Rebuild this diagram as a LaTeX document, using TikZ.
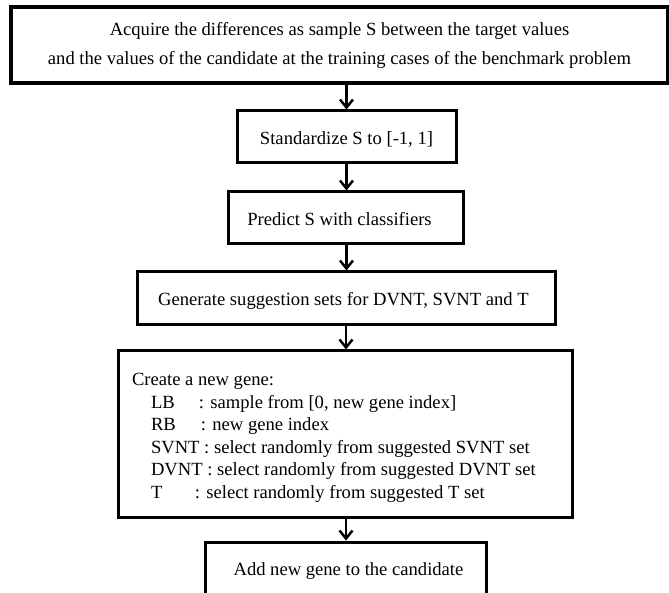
\documentclass[tikz,border=0pt]{standalone}
\usepackage{fontspec}
\setmainfont{Liberation Serif}
\usetikzlibrary{arrows.meta}

\tikzset{
  stepbox/.style={draw=black, line width=3pt, rectangle, inner sep=0pt,
    font=\fontsize{18.6}{29}\selectfont, text height=15pt, text depth=0pt},
  flow/.style={line width=2.5pt, -{Straight Barb[length=8pt,width=13pt]}},
}

\begin{document}
\begin{tikzpicture}[x=1pt, y=-1pt]
  \clip (0,0) rectangle (669,593);
  \fill[white] (0,0) rectangle (669,593);

  % first step: two centred lines
  \node[stepbox, line width=3.2pt, minimum width=657pt, minimum height=76pt,
        align=center, text height=, text depth=] (acquire) at (339.5,45)
    {Acquire the differences as sample S between the target values\\
     and the values of the candidate at the training cases of the benchmark problem};

  \node[stepbox, minimum width=219pt, minimum height=52pt] (standard) at (346.5,137)
    {Standardize S to [-1, 1]};

  \node[stepbox, minimum width=235pt, minimum height=52pt] (predict) at (345.5,218)
    {\hspace*{-12pt}Predict S with classifiers};

  \node[stepbox, minimum width=418pt, minimum height=53pt] (suggest) at (346,298.5)
    {\hspace*{-5pt}Generate suggestion sets for DVNT, SVNT and T};

  % gene creation step, left aligned list with ordinary word spaces
  \node[stepbox, minimum width=454pt, minimum height=166pt, text height=, text depth=,
        align=left, text width=426pt, font=\fontsize{18.6}{22.5}\selectfont] (gene) at (345,434)
    {\vtop{\baselineskip=22.5pt \spaceskip=0pt \xspaceskip=0pt
      \hbox{\rule{0pt}{20.5pt}Create a new gene:}
      \hbox{\hspace*{19pt}\makebox[48pt][l]{LB}: sample from [0, new gene index]}
      \hbox{\hspace*{19pt}\makebox[50pt][l]{RB}: new gene index}
      \hbox{\hspace*{19pt}SVNT : select randomly from suggested SVNT set}
      \hbox{\hspace*{19pt}DVNT : select randomly from suggested DVNT set}
      \hbox{\hspace*{19pt}\makebox[44pt][l]{T}: select randomly from suggested T set}}};

  \node[stepbox, minimum width=281pt, minimum height=52pt] (add) at (345.5,568)
    {\hspace*{6pt}Add new gene to the candidate};

  % connectors
  \draw[flow] (standard.north |- acquire.south) -- (standard.north);
  \draw[flow] (standard.south) -- (predict.north -| standard.south);
  \draw[flow] (predict.south -| standard.south) -- (suggest.north -| standard.south);
  \draw[flow] (suggest.south) -- (gene.north -| suggest.south);
  \draw[flow] (gene.south -| suggest.south) -- (add.north -| suggest.south);
\end{tikzpicture}
\end{document}
